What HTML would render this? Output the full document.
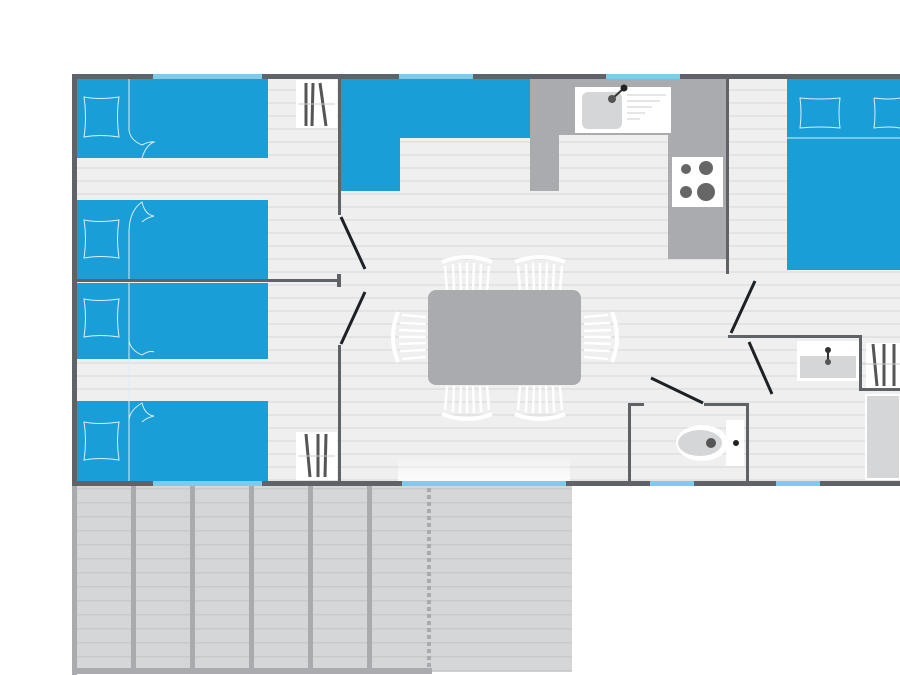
<!DOCTYPE html>
<html><head><style>html,body{margin:0;padding:0;background:#fff}svg{display:block}</style></head>
<body>
<svg width="900" height="675" viewBox="0 0 900 675" xmlns="http://www.w3.org/2000/svg">
<defs>
<pattern id="fl" width="10" height="13" patternUnits="userSpaceOnUse"><rect width="10" height="13" fill="#efefef"/><rect y="11" width="10" height="2" fill="#e3e3e3"/></pattern>
<pattern id="tr" width="10" height="14" patternUnits="userSpaceOnUse"><rect width="10" height="14" fill="#d5d6d8"/><rect y="12" width="10" height="1.5" fill="#c8c9cb"/></pattern>
<linearGradient id="fade" x1="0" y1="0" x2="0" y2="1"><stop offset="0" stop-color="#fff" stop-opacity="0"/><stop offset="1" stop-color="#fff" stop-opacity="0.9"/></linearGradient>
<g id="chair" fill="none" stroke="#fff">
<path d="M-25 -14Q0 -24 25 -14" stroke-width="4"/>
<path d="M-22 -10L-20 14M-14 -12L-13 14M-7 -13L-6 14M0 -13L0 14M7 -13L6 14M14 -12L13 14M22 -10L20 14" stroke-width="2.5"/>
</g>
</defs>
<rect x="72" y="74" width="828" height="412" fill="url(#fl)"/>
<!-- terrace -->
<rect x="72" y="486" width="500" height="186" fill="url(#tr)"/>
<rect x="72" y="486" width="5" height="189" fill="#a9abae"/>
<rect x="72" y="668" width="360" height="6" fill="#a9abae"/>
<g fill="#a9abae"><rect x="131" y="486" width="5" height="184"/><rect x="190" y="486" width="5" height="184"/><rect x="249" y="486" width="5" height="184"/><rect x="308" y="486" width="5" height="184"/><rect x="367" y="486" width="5" height="184"/></g>
<line x1="429" y1="488" x2="429" y2="668" stroke="#a9abae" stroke-width="4" stroke-dasharray="4,3"/>
<!-- beds -->
<g fill="#1a9ed8">
<rect x="77" y="79" width="191" height="79"/><rect x="77" y="200" width="191" height="80"/><rect x="77" y="283" width="191" height="76"/><rect x="77" y="401" width="191" height="80"/>
<path d="M341 79H530V138H400V191H341Z"/>
<rect x="787" y="79" width="113" height="191"/>
</g>
<g fill="none" stroke="#d8eef9" stroke-width="1">
<path d="M84 97Q99 100 119 97Q116 115 119 137Q100 134 84 137Q87 117 84 97Z"/>
<path d="M84 220Q99 223 119 220Q116 238 119 258Q100 255 84 258Q87 238 84 220Z"/>
<path d="M84 299Q99 302 119 299Q116 317 119 337Q100 334 84 337Q87 317 84 299Z"/>
<path d="M84 422Q99 425 119 422Q116 440 119 460Q100 457 84 460Q87 440 84 422Z"/>
<path d="M129 79V130Q130 140 142 145Q150 141 154 142Q146 145 142 158"/>
<path d="M129 481V230Q130 210 142 202Q145 215 154 216Q146 218 142 222"/>
<path d="M129 283V340Q130 350 142 355Q150 350 154 352"/>
<path d="M129 420Q130 410 142 403Q145 415 154 416Q146 418 142 422"/>
<path d="M800 98Q820 100 840 98Q838 113 840 128Q820 126 800 128Q802 113 800 98Z"/>
<path d="M874 98Q890 100 900 98M874 98Q876 113 874 128Q890 126 900 128"/>
<line x1="787" y1="138" x2="900" y2="138"/>
</g>
<!-- kitchen -->
<g fill="#a9abae"><rect x="530" y="79" width="29" height="112"/><rect x="559" y="79" width="169" height="56"/><rect x="668" y="135" width="60" height="124"/></g>
<rect x="575" y="87" width="96" height="46" fill="#fff"/>
<rect x="582" y="92" width="40" height="37" rx="6" fill="#d5d6d8"/>
<line x1="612" y1="99" x2="624" y2="88" stroke="#333" stroke-width="2"/>
<circle cx="612" cy="99" r="4" fill="#555"/><circle cx="624" cy="88" r="3.5" fill="#222"/>
<g stroke="#ccc" stroke-width="1"><line x1="627" y1="95" x2="666" y2="95"/><line x1="627" y1="101" x2="660" y2="101"/><line x1="627" y1="107" x2="652" y2="107"/><line x1="627" y1="113" x2="645" y2="113"/><line x1="627" y1="119" x2="640" y2="119"/></g>
<rect x="672" y="157" width="51" height="50" fill="#fff"/>
<g fill="#666"><circle cx="686" cy="169" r="5"/><circle cx="706" cy="168" r="7"/><circle cx="686" cy="192" r="6"/><circle cx="706" cy="192" r="9"/></g>
<!-- chairs & table -->
<use href="#chair" transform="translate(467,276)"/>
<use href="#chair" transform="translate(540,276)"/>
<use href="#chair" transform="translate(467,400) scale(1,-1)"/>
<use href="#chair" transform="translate(540,400) scale(1,-1)"/>
<use href="#chair" transform="translate(412,337) rotate(-90)"/>
<use href="#chair" transform="translate(598,337) rotate(90)"/>
<rect x="428" y="290" width="153" height="95" rx="8" fill="#a9abae"/>
<rect x="398" y="455" width="172" height="27" fill="url(#fade)"/>
<!-- bath -->
<rect x="797" y="341" width="63" height="40" fill="#fff"/><rect x="800" y="356" width="56" height="22" fill="#d5d6d8"/>
<line x1="828" y1="350" x2="828" y2="362" stroke="#333" stroke-width="2"/><circle cx="828" cy="350" r="3" fill="#333"/><circle cx="828" cy="362" r="3" fill="#555"/>
<rect x="866" y="343" width="34" height="45" fill="#fff"/>
<rect x="866" y="395" width="34" height="84" fill="#d5d6d8" stroke="#fff" stroke-width="2"/>
<!-- wardrobes -->
<rect x="296" y="80" width="41" height="48" fill="#fff"/><rect x="296" y="432" width="41" height="48" fill="#fff"/>
<g stroke="#555" stroke-width="3"><line x1="306" y1="83" x2="306" y2="126"/><line x1="313" y1="83" x2="312" y2="126"/><line x1="320" y1="83" x2="326" y2="126"/><line x1="306" y1="434" x2="310" y2="477"/><line x1="318" y1="434" x2="318" y2="477"/><line x1="326" y1="434" x2="325" y2="477"/>
<line x1="873" y1="344" x2="877" y2="386"/><line x1="884" y1="344" x2="884" y2="386"/><line x1="894" y1="344" x2="894" y2="386"/></g>
<g stroke="#ccc" stroke-width="1"><line x1="298" y1="104" x2="335" y2="104"/><line x1="298" y1="456" x2="335" y2="456"/><line x1="862" y1="364" x2="900" y2="364"/></g>
<!-- WC -->
<rect x="726" y="420" width="18" height="46" fill="#fff"/>
<ellipse cx="702" cy="443" rx="26" ry="18" fill="#fff"/><ellipse cx="700" cy="443" rx="22" ry="13" fill="#d5d6d8"/>
<circle cx="711" cy="443" r="5" fill="#555"/><circle cx="736" cy="443" r="3" fill="#222"/>
<!-- walls -->
<g fill="#5f6368">
<rect x="72" y="74" width="828" height="5"/><rect x="72" y="481" width="828" height="5"/><rect x="72" y="74" width="5" height="412"/>
<rect x="338" y="79" width="3" height="136"/><rect x="338" y="345" width="3" height="137"/>
<rect x="77" y="279" width="264" height="3"/><rect x="337" y="274" width="4" height="13"/>
<rect x="726" y="79" width="3" height="195"/>
<rect x="728" y="335" width="133" height="3"/><rect x="859" y="335" width="3" height="56"/><rect x="859" y="388" width="41" height="3"/>
<rect x="628" y="403" width="3" height="80"/><rect x="628" y="403" width="16" height="3"/><rect x="704" y="403" width="45" height="3"/><rect x="746" y="403" width="3" height="80"/>
</g>
<g fill="#7fcbec">
<rect x="153" y="74" width="109" height="5"/><rect x="399" y="74" width="74" height="5"/><rect x="606" y="74" width="74" height="5"/>
<rect x="153" y="481" width="109" height="5"/><rect x="402" y="481" width="164" height="5"/><rect x="650" y="481" width="44" height="5"/><rect x="776" y="481" width="44" height="5"/>
</g>
<!-- doors -->
<g stroke="#1d2126" stroke-width="3"><line x1="341" y1="217" x2="365" y2="269"/><line x1="341" y1="344" x2="365" y2="292"/>
<line x1="731" y1="333" x2="755" y2="281"/><line x1="749" y1="342" x2="772" y2="394"/><line x1="651" y1="378" x2="703" y2="403"/></g>
</svg>
</body></html>
